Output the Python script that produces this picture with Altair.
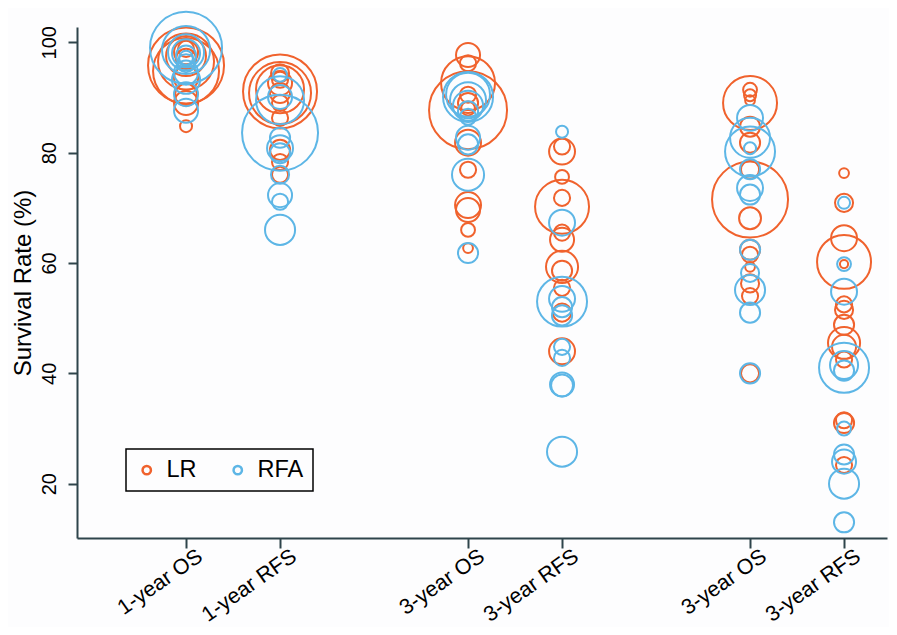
import altair as alt
import pandas as pd

# ---- data ----
endpoint_labels = ["1-year OS", "1-year RFS", "3-year OS", "3-year RFS", "3-year OS", "3-year RFS"]
endpoint_pos = [1, 2, 4, 5, 7, 8]
groups = ["LR", "RFA"]

# survival rate (%) and study size for each endpoint
lr_rate_1 = [95.8, 94.8, 96.5, 97.5, 98.2, 98.8, 97.0, 93.5, 90.5, 89.0, 84.8]
lr_n_1 = [601, 453, 326, 166, 60, 27, 42, 60, 50, 60, 15]
rfa_rate_1 = [99.0, 98.6, 98.2, 98.0, 97.6, 97.2, 96.2, 94.5, 93.2, 90.6, 87.6]
rfa_n_1 = [540, 240, 135, 82, 42, 20, 34, 60, 82, 60, 60]

lr_rate_2 = [91.1, 90.8, 91.5, 94.4, 93.2, 92.6, 90.8, 89.0, 86.3, 80.5, 78.3, 76.0]
lr_n_2 = [570, 400, 240, 34, 27, 60, 42, 27, 27, 42, 27, 27]
rfa_rate_2 = [94.1, 90.1, 89.5, 83.6, 82.7, 80.8, 79.9, 76.0, 72.3, 71.1, 66.0]
rfa_n_2 = [20, 60, 240, 601, 42, 70, 42, 34, 60, 27, 94]

lr_rate_3 = [97.7, 96.2, 92.6, 87.7, 90.5, 89.0, 88.0, 81.8, 76.9, 70.5, 69.6, 66.0, 62.7]
lr_n_3 = [60, 27, 303, 633, 27, 42, 20, 70, 27, 70, 60, 20, 10]
rfa_rate_3 = [90.1, 90.5, 89.5, 88.5, 87.5, 86.5, 82.7, 81.5, 76.0, 61.8]
rfa_n_3 = [260, 201, 135, 94, 42, 27, 60, 42, 107, 42]

lr_rate_4 = [81.1, 80.2, 75.6, 71.8, 70.2, 65.5, 64.2, 59.3, 58.6, 55.5, 51.0, 44.0]
lr_n_4 = [27, 70, 20, 27, 303, 27, 60, 107, 42, 27, 34, 70]
rfa_rate_4 = [83.8, 67.3, 53.0, 53.5, 52.0, 50.5, 44.8, 42.8, 38.0, 37.8, 25.8]
rfa_n_4 = [15, 70, 260, 70, 42, 42, 27, 27, 60, 50, 94]

lr_rate_5 = [91.4, 90.4, 89.5, 89.0, 84.7, 81.8, 76.9, 71.5, 68.1, 62.4, 61.5, 59.3, 56.3, 54.0, 40.0]
lr_n_5 = [20, 15, 10, 303, 42, 42, 34, 601, 50, 42, 27, 10, 34, 27, 34]
rfa_rate_5 = [86.3, 82.7, 80.2, 80.8, 77.0, 73.6, 72.4, 62.4, 58.2, 55.1, 51.0, 40.0]
rfa_n_5 = [70, 166, 260, 15, 42, 70, 42, 42, 34, 94, 42, 42]

lr_rate_6 = [76.3, 70.9, 64.5, 60.2, 59.8, 52.5, 51.5, 48.8, 45.5, 44.8, 42.5, 31.0, 31.5, 23.4]
lr_n_6 = [10, 34, 70, 303, 7, 27, 34, 42, 107, 60, 27, 42, 27, 27]
rfa_rate_6 = [70.9, 59.8, 54.8, 41.0, 41.5, 40.5, 30.0, 25.3, 24.0, 20.0, 13.0]
rfa_n_6 = [15, 20, 70, 260, 82, 42, 20, 42, 60, 94, 42]

y_ticks = [20, 40, 60, 80, 100]

# ---- build table ----
lr_rates = [lr_rate_1, lr_rate_2, lr_rate_3, lr_rate_4, lr_rate_5, lr_rate_6]
lr_ns = [lr_n_1, lr_n_2, lr_n_3, lr_n_4, lr_n_5, lr_n_6]
rfa_rates = [rfa_rate_1, rfa_rate_2, rfa_rate_3, rfa_rate_4, rfa_rate_5, rfa_rate_6]
rfa_ns = [rfa_n_1, rfa_n_2, rfa_n_3, rfa_n_4, rfa_n_5, rfa_n_6]

rows = []
order = 0
for grp, rates_all, ns_all in [("LR", lr_rates, lr_ns), ("RFA", rfa_rates, rfa_ns)]:
    for pos, rates, ns in zip(endpoint_pos, rates_all, ns_all):
        for r, n in zip(rates, ns):
            rows.append({"pos": pos, "rate": r, "n": n, "group": grp, "ord": order})
            order += 1
df = pd.DataFrame(rows)

label_expr = ""
for p, lab in zip(endpoint_pos, endpoint_labels):
    label_expr += f"datum.value == {p} ? '{lab}' : "
label_expr += "''"

FONT = "Liberation Sans"
AXIS_COLOR = "#2e444b"
PLOT_H = 511

chart = alt.Chart(df).mark_point(
    shape="circle", filled=False, strokeWidth=2, opacity=1
).encode(
    x=alt.X("pos:Q",
            scale=alt.Scale(domain=[-0.16, 8.457], nice=False, zero=False),
            axis=alt.Axis(values=endpoint_pos, labelExpr=label_expr, title=None,
                          labelAngle=325, labelAlign="right", labelBaseline="middle",
                          labelFontSize=21.5, labelPadding=6, labelOffset=14,
                          tickSize=10, grid=False, labelOverlap=False)),
    y=alt.Y("rate:Q",
            scale=alt.Scale(domain=[10.16, 102.77], nice=False, zero=False),
            axis=alt.Axis(values=y_ticks, title="Survival Rate (%)", titleFontSize=24,
                          titleFontWeight="normal", titleX=-54, titleY=PLOT_H / 2,
                          titleAngle=270, titleAlign="center", titleBaseline="middle",
                          labelAngle=270, labelAlign="center", labelBaseline="bottom",
                          labelFontSize=20, labelPadding=9, tickSize=9, grid=False)),
    color=alt.Color("group:N",
                    scale=alt.Scale(domain=groups, range=["#f0622d", "#5db6e6"]),
                    legend=alt.Legend(orient="none", legendX=49, legendY=422,
                                      direction="horizontal", title=None,
                                      symbolType="circle", symbolSize=70,
                                      symbolStrokeWidth=2.5, labelFontSize=23.5,
                                      columnPadding=29, labelOffset=8, padding=9,
                                      strokeColor="black")),
    size=alt.Size("n:Q", scale=alt.Scale(domain=[0, 600], range=[0, 5766]), legend=None),
    order=alt.Order("ord:Q"),
).properties(
    width=810, height=PLOT_H,
    autosize=alt.AutoSizeParams(type="none"),
    padding={"left": 69, "top": 19, "right": 2, "bottom": 89},
    background="#fdfdfe",
).configure_view(
    stroke=None
).configure_axis(
    domainColor=AXIS_COLOR, tickColor=AXIS_COLOR, domainWidth=2, tickWidth=2,
    labelColor="black", titleColor="black", labelFont=FONT, titleFont=FONT,
).configure_legend(
    labelFont=FONT, labelColor="black", strokeWidth=1.5,
)

chart.save("out.html", embed_options={"renderer": "svg", "actions": False})
